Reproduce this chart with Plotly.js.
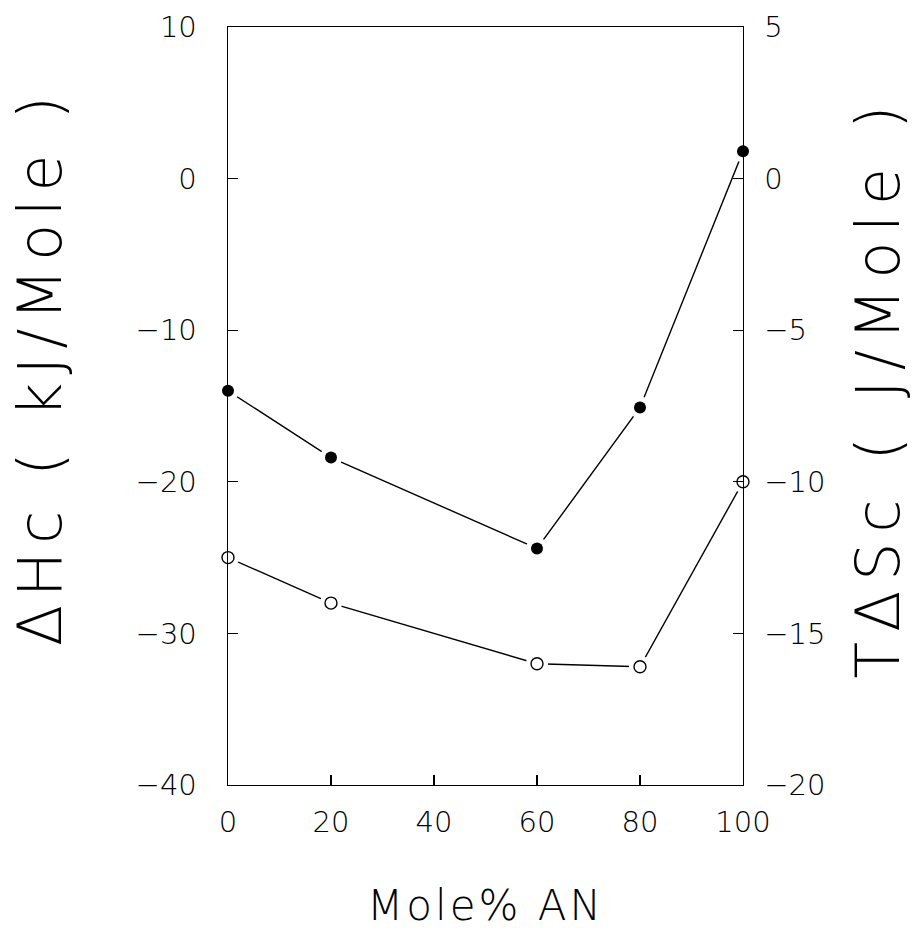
<!DOCTYPE html>
<html>
<head>
<meta charset="utf-8">
<script src="https://cdn.plot.ly/plotly-3.0.1.min.js"></script>
<style>html,body{margin:0;padding:0;background:#fff;}#chart{width:918px;height:930px;}</style>
</head>
<body>
<div id="chart"></div>
<script>
// Mole% AN
const moleAN = [0, 20, 60, 80, 100];
// ΔHc (kJ/Mole) – filled circles, left axis
const deltaHc = [-14.0, -18.4, -24.4, -15.1, 1.8];
// TΔSc (J/Mole) – open circles, right axis
const tDeltaSc = [-12.5, -14.0, -16.0, -16.1, -10.0];

const xTicks = [0, 20, 40, 60, 80, 100];
const yTicks = [-40, -30, -20, -10, 0, 10];
const y2Ticks = [-20, -15, -10, -5, 0, 5];

const FONT = 'DejaVu Sans, Liberation Sans, sans-serif';
const W = 200;

const traces = [
  {x: moleAN, y: deltaHc, mode: 'lines', line: {color: '#000', width: 1.4}, yaxis: 'y', hoverinfo: 'skip', showlegend: false, cliponaxis: false},
  {x: moleAN, y: tDeltaSc, mode: 'lines', line: {color: '#000', width: 1.4}, yaxis: 'y2', hoverinfo: 'skip', showlegend: false, cliponaxis: false},
  {x: moleAN, y: deltaHc, mode: 'markers', marker: {color: '#fff', size: 22, line: {width: 0}}, yaxis: 'y', hoverinfo: 'skip', showlegend: false, cliponaxis: false},
  {x: moleAN, y: tDeltaSc, mode: 'markers', marker: {color: '#fff', size: 22, line: {width: 0}}, yaxis: 'y2', hoverinfo: 'skip', showlegend: false, cliponaxis: false},
  {x: moleAN, y: deltaHc, mode: 'markers', name: 'ΔHc', marker: {color: '#000', size: 12, symbol: 'circle'}, yaxis: 'y', showlegend: false, cliponaxis: false},
  {x: moleAN, y: tDeltaSc, mode: 'markers', name: 'TΔSc', marker: {color: '#fff', size: 12, symbol: 'circle', line: {color: '#000', width: 1.4}}, yaxis: 'y2', showlegend: false, cliponaxis: false}
];

const tickFont = {family: FONT, size: 29, color: '#000', weight: W};

const layout = {
  width: 918, height: 930,
  margin: {l: 228, r: 175, t: 27, b: 145},
  paper_bgcolor: '#fff', plot_bgcolor: '#fff',
  font: {family: FONT, color: '#000', size: 29, weight: W},
  showlegend: false,
  xaxis: {
    range: [0, 100], tickvals: xTicks, ticktext: xTicks.map(String),
    ticks: 'inside', ticklen: 10, tickwidth: 1.2, tickcolor: '#000',
    showline: true, linecolor: '#000', linewidth: 1.4, mirror: true,
    showgrid: false, zeroline: false,
    ticklabelstandoff: 11,
    tickfont: tickFont,
    title: {text: 'Mole% AN', font: {family: FONT, size: 42, color: '#000', weight: W}, standoff: 58}
  },
  yaxis: {
    range: [-40, 10], tickvals: yTicks,
    ticks: 'inside', ticklen: 10, tickwidth: 1.2, tickcolor: '#000',
    showline: true, linecolor: '#000', linewidth: 1.4,
    showgrid: false, zeroline: false,
    ticklabelstandoff: 24,
    tickfont: tickFont,
    title: {text: 'ΔHc ( kJ/Mole )', font: {family: FONT, size: 60, color: '#000', weight: W}, standoff: 54}
  },
  yaxis2: {
    range: [-20, 5], tickvals: y2Ticks, overlaying: 'y', side: 'right',
    ticks: 'inside', ticklen: 10, tickwidth: 1.2, tickcolor: '#000',
    showline: true, linecolor: '#000', linewidth: 1.4,
    showgrid: false, zeroline: false,
    ticklabelstandoff: 14,
    tickfont: tickFont,
    title: {text: 'TΔSc ( J/Mole )', font: {family: FONT, size: 60, color: '#000', weight: W}, standoff: 32}
  }
};

Plotly.newPlot('chart', traces, layout, {staticPlot: true, displayModeBar: false}).then(function (gd) {
  // widen letter spacing of axis titles like the original plotter font, and nudge vertical centres
  const adj = [['.g-ytitle', -39, '8px'], ['.g-y2title', -19, '10px']];
  adj.forEach(function (a) {
    const g = gd.querySelector(a[0]);
    if (!g) return;
    g.setAttribute('transform', 'translate(0,' + a[1] + ')');
    g.querySelectorAll('text').forEach(function (t) { t.style.letterSpacing = a[2]; });
  });
  const xt = gd.querySelector('.g-xtitle text');
  if (xt) xt.style.letterSpacing = '3px';
});
</script>
</body>
</html>
